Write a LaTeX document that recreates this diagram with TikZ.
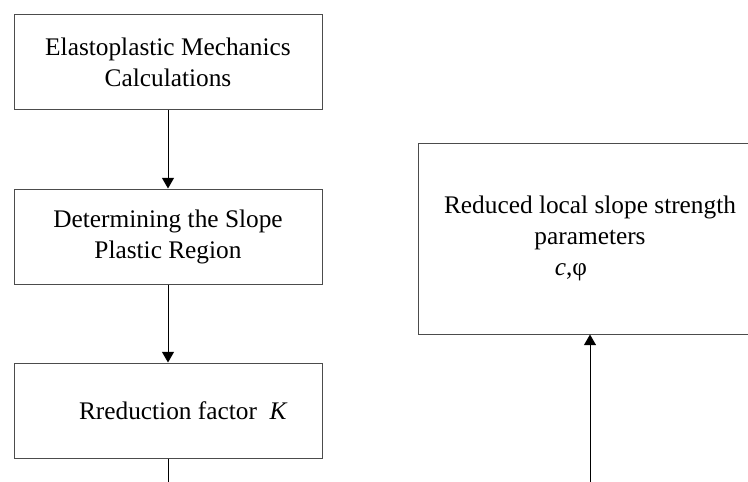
\documentclass[tikz,border=0pt]{standalone}
\usepackage{fontspec}
\setmainfont{Liberation Serif}
\usetikzlibrary{positioning}
\usetikzlibrary{arrows.meta}
\usetikzlibrary{calc}

\begin{document}
\begin{tikzpicture}[
	stepbox/.style={draw=black!70,line width=0.75pt,minimum width=231pt,minimum height=71.25pt,inner sep=0pt,align=center,font=\fontsize{19}{23.25}\selectfont},
	flow/.style={-{Triangle[width=9pt,length=8pt]},line width=0.75pt},
	node distance=58.5pt]
	\useasboundingbox (0,0) rectangle (561pt,-360.75pt);
	\clip (0,0) rectangle (561pt,-360.75pt);
	
	% left column
	\node[stepbox] (calc) at (126pt,-46.875pt) {Elastoplastic Mechanics\\Calculations};
	\node[stepbox,below=of calc] (plastic) {Determining the Slope\\Plastic Region};
	\node[stepbox,below=of plastic] (factor) {\hspace*{23pt}Rreduction factor\ \ \textit{K}};
	\draw[flow] (calc) -- (plastic);
	\draw[flow] (plastic) -- (factor);
	\coordinate (factor out) at ($(factor.south)+(0,-20pt)$);
	\draw[line width=0.75pt] (factor) -- (factor out);
	
	% right column
	\node[stepbox,minimum width=258pt,minimum height=143.25pt] (params) at (442.5pt,-178.875pt) {Reduced local slope strength\\parameters\\\textit{c},φ\hspace*{28.5pt}};
	\coordinate (params in) at ($(params.south)+(0,-120pt)$);
	\draw[flow] (params in) -- (params);
\end{tikzpicture}
\end{document}
